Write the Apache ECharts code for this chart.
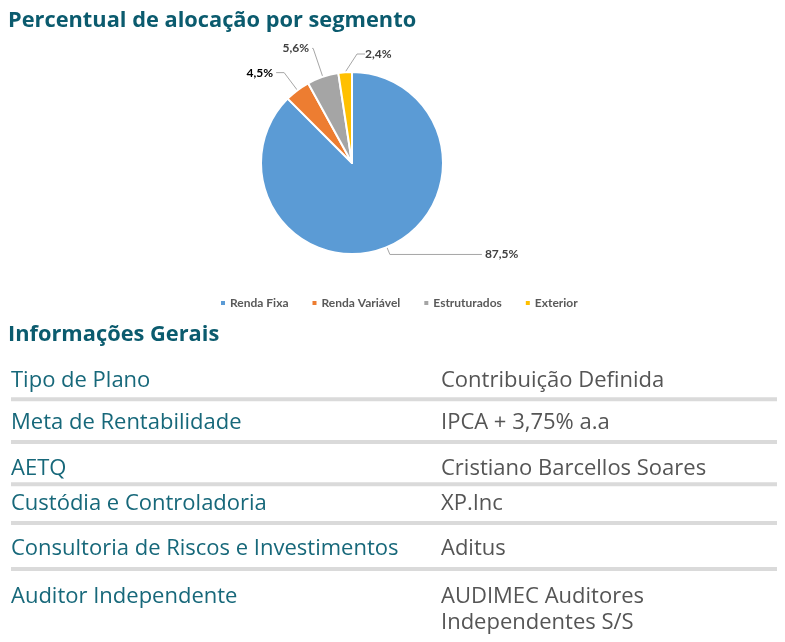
<!DOCTYPE html>
<html>
<head>
<meta charset="utf-8">
<title>Percentual de alocação por segmento</title>
<script src="https://cdn.jsdelivr.net/npm/echarts@6/dist/echarts.min.js"></script>
<style>
    body { margin: 0; background: #fff; }
    #chart { width: 785px; height: 642px; }
</style>
</head>
<body>
<div id="chart"></div>
<script>
// dados do gráfico
var segmentos = ['Renda Fixa', 'Renda Variável', 'Estruturados', 'Exterior'];
var percentuais = [87.5, 4.5, 5.6, 2.4];

// informações gerais (coluna esquerda / direita)
var itens = ['Tipo de Plano', 'Meta de Rentabilidade', 'AETQ', 'Custódia e Controladoria',
    'Consultoria de Riscos e Investimentos', 'Auditor Independente'];
var valores = ['Contribuição Definida', 'IPCA + 3,75% a.a', 'Cristiano Barcellos Soares', 'XP.Inc',
    'Aditus', 'AUDIMEC Auditores\nIndependentes S/S'];

var cores = ['#5b9bd5', '#ed7d31', '#a5a5a5', '#ffc000'];
var centro = [352, 163];
var linhaRotulo = [[8, 92], [22, 8], [30, 1], [14, 8]];   //length, length2 por fatia
var topoLinhas = [367.4, 409.7, 455.7, 490.7, 535.7, 584];  //topo do texto de cada linha
var separadores = [397.3, 440, 482.3, 521, 567];

var myChart = echarts.init(document.getElementById('chart'));

function montarDados() {
    var dados = [];
    for (var i = 0; i < segmentos.length; i++) {
        dados.push({
            name: segmentos[i],
            value: percentuais[i],
            label: { color: i === 1 ? '#000000' : '#404040' },
            labelLine: { length: linhaRotulo[i][0], length2: linhaRotulo[i][1] }
        });
    }
    return dados;
}

function montarGraficos() {
    var g = [];
    g.push({
        type: 'text', left: 8, top: 10,
        style: { text: 'Percentual de alocação por segmento', font: 'bold 21.8px "Open Sans"', fill: '#0b5b6e' }
    });
    g.push({
        type: 'text', left: 8, top: 324,
        style: { text: 'Informações Gerais', font: 'bold 21.8px "Open Sans"', fill: '#0b5b6e' }
    });
    for (var i = 0; i < itens.length; i++) {
        g.push({
            type: 'text', x: 11, y: topoLinhas[i],
            style: { text: itens[i], font: '22px "Open Sans"', lineHeight: 26, fill: '#17687a' }
        });
        g.push({
            type: 'text', x: 441, y: topoLinhas[i],
            style: { text: valores[i], font: '22px "Open Sans"', lineHeight: 26, fill: '#555555' }
        });
    }
    for (var j = 0; j < separadores.length; j++) {
        g.push({
            type: 'rect', shape: { x: 11, y: separadores[j], width: 766, height: 4 },
            style: { fill: '#dadada' }
        });
    }
    return g;
}

var option = {
    backgroundColor: '#ffffff',
    color: cores,
    legend: {
        data: segmentos,
        left: 214,
        top: 292,
        icon: 'rect',
        itemWidth: 6,
        itemHeight: 6,
        itemGap: 22,
        textStyle: { fontFamily: 'Lato', fontWeight: 'bold', fontSize: 12, color: '#595959', padding: [0, 0, 0, -1] }
    },
    series: [{
        type: 'pie',
        center: centro,
        radius: 91,
        startAngle: 90,
        clockwise: true,
        avoidLabelOverlap: false,
        itemStyle: { borderColor: '#ffffff', borderWidth: 2 },
        label: {
            show: true,
            position: 'outside',
            fontFamily: 'Lato',
            fontWeight: 'bold',
            fontSize: 12,
            distanceToLabelLine: 3,
            formatter: function (p) {
                return p.value.toFixed(1).replace('.', ',') + '%';
            }
        },
        labelLine: { show: true, lineStyle: { color: '#a6a6a6', width: 1 } },
        labelLayout: function (params) {
            // rótulo do Exterior fica à direita da fatia
            if (params.dataIndex === 3) {
                return { x: centro[0] + 13, y: centro[1] - 109, align: 'left', verticalAlign: 'middle' };
            }
        },
        emphasis: { disabled: true },
        data: montarDados()
    }],
    graphic: montarGraficos()
};
myChart.setOption(option);
</script>
</body>
</html>
